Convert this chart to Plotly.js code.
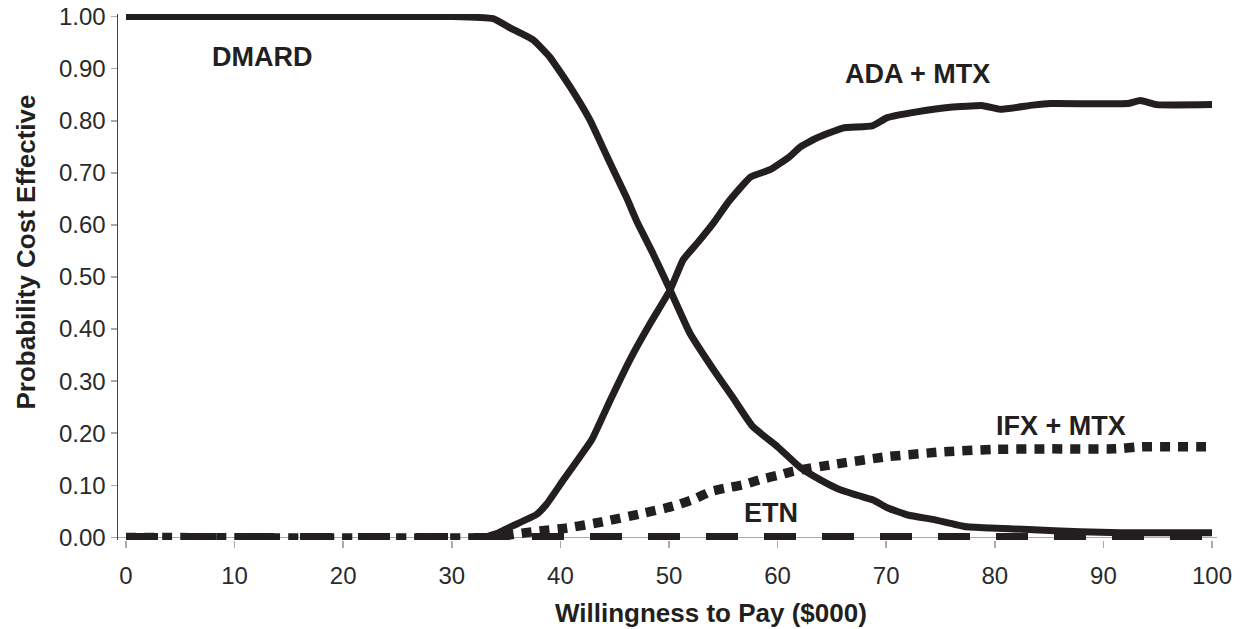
<!DOCTYPE html>
<html>
<head>
<meta charset="utf-8">
<script src="https://cdn.plot.ly/plotly-3.0.1.min.js"></script>
<style>html,body{margin:0;padding:0;background:#fff;}#chart{width:1248px;height:629px;}</style>
</head>
<body>
<div id="chart"></div>
<script>
// Willingness to pay ($000) and probability cost effective
var dmardX = [0, 30, 33.8, 35.4, 37.5, 39.0, 40.9, 42.7, 44.3, 46.1, 47.1, 48.5, 50.1, 51.9, 54.1, 55.9, 57.7, 60.0, 62.1, 63.9, 65.7, 67.5, 68.8, 70.1, 72.0, 74.4, 77.2, 79.6, 83.1, 87.9, 91.6, 100];
var dmardY = [1, 1, 0.996, 0.978, 0.955, 0.923, 0.865, 0.802, 0.731, 0.652, 0.604, 0.546, 0.475, 0.393, 0.322, 0.268, 0.213, 0.174, 0.134, 0.111, 0.092, 0.080, 0.072, 0.057, 0.043, 0.034, 0.021, 0.018, 0.015, 0.011, 0.009, 0.009];

var adaX = [33, 34.2, 35.6, 37.8, 38.7, 40.3, 41.8, 42.9, 44.6, 46.4, 48.3, 50.1, 51.3, 52.6, 54.1, 55.5, 57.5, 59.3, 61.1, 62.1, 63.6, 66.0, 68.7, 70.1, 72.8, 75.9, 78.9, 80.5, 83.5, 85.1, 92.2, 93.4, 94.9, 100];
var adaY = [0, 0.008, 0.022, 0.044, 0.063, 0.111, 0.155, 0.188, 0.264, 0.341, 0.412, 0.475, 0.533, 0.565, 0.604, 0.645, 0.692, 0.706, 0.731, 0.750, 0.767, 0.786, 0.790, 0.806, 0.817, 0.826, 0.829, 0.822, 0.830, 0.833, 0.833, 0.839, 0.831, 0.831];

var ifxX = [0, 34, 35.4, 37.5, 40.6, 43.9, 47.3, 50.4, 52.5, 53.8, 55.3, 56.8, 58.4, 60.2, 61.4, 65.1, 70.1, 75.0, 79.8, 85, 91.1, 93.5, 100];
var ifxY = [0, 0, 0.005, 0.011, 0.018, 0.030, 0.045, 0.060, 0.075, 0.088, 0.095, 0.101, 0.111, 0.120, 0.127, 0.140, 0.155, 0.164, 0.169, 0.170, 0.170, 0.174, 0.174];

var etnX = [0, 100];
var etnY = [0, 0];

var seriesLabels = ["DMARD", "ADA + MTX", "IFX + MTX", "ETN"];
var labelX = [12.6, 72.9, 86.1, 59.4];
var labelY = [0.922, 0.89, 0.214, 0.046];

var yTickVals = [0, 0.1, 0.2, 0.3, 0.4, 0.5, 0.6, 0.7, 0.8, 0.9, 1.0];
var xTickVals = [0, 10, 20, 30, 40, 50, 60, 70, 80, 90, 100];

var xTitle = "Willingness to Pay ($000)";
var yTitle = "Probability Cost Effective";

var ink = "#231f20";
var fam = "Liberation Sans, Arial, sans-serif";
var traces = [
  {x: etnX, y: etnY, mode: "lines", name: "ETN", line: {color: ink, width: 9, dash: "32px,26px"}},
  {x: ifxX, y: ifxY, mode: "lines", name: "IFX + MTX", line: {color: ink, width: 9.5, dash: "10px,8px", shape: "spline", smoothing: 0.4}},
  {x: adaX, y: adaY, mode: "lines", name: "ADA + MTX", line: {color: ink, width: 7, shape: "spline", smoothing: 0.4}},
  {x: dmardX, y: dmardY, mode: "lines", name: "DMARD", line: {color: ink, width: 7, shape: "spline", smoothing: 0.4}}
];

var annotations = seriesLabels.map(function (t, i) {
  return {x: labelX[i], y: labelY[i], xref: "x", yref: "y", text: "<b>" + t + "</b>", showarrow: false,
          font: {family: fam, size: 27, color: ink},
          xanchor: "center", yanchor: "middle"};
});
annotations.push({xref: "paper", yref: "paper", x: 0.5396, y: -0.1388, text: "<b>" + xTitle + "</b>",
  showarrow: false, xanchor: "center", yanchor: "middle", font: {family: fam, size: 26, color: ink}});
annotations.push({xref: "paper", yref: "paper", x: -0.0837, y: 0.5466, text: "<b>" + yTitle + "</b>",
  showarrow: false, xanchor: "center", yanchor: "middle", textangle: -90, font: {family: fam, size: 26, color: ink}});

var layout = {
  width: 1248, height: 629,
  margin: {l: 118, r: 31, t: 14, b: 89},
  paper_bgcolor: "#fff", plot_bgcolor: "#fff",
  showlegend: false,
  font: {family: fam, color: ink, size: 24},
  xaxis: {
    range: [-0.737, 100.46], tickvals: xTickVals, ticktext: xTickVals.map(String),
    showgrid: false, zeroline: false, showline: false,
    ticks: "outside", ticklen: 7, tickwidth: 1.5, tickcolor: "#aaa",
    ticklabelstandoff: 7,
    tickfont: {size: 24, color: "#2a2a2a"}
  },
  yaxis: {
    range: [-0.005, 1.005], tickvals: yTickVals, tickformat: ".2f",
    showgrid: false, zeroline: true, zerolinecolor: "#aaa", zerolinewidth: 1.5,
    showline: true, linecolor: "#444", linewidth: 1.5,
    ticks: "outside", ticklen: 6, tickwidth: 1.5, tickcolor: "#aaa",
    tickfont: {size: 24, color: "#2a2a2a"}
  },
  annotations: annotations
};

Plotly.newPlot("chart", traces, layout, {displayModeBar: false, staticPlot: true});
</script>
</body>
</html>
